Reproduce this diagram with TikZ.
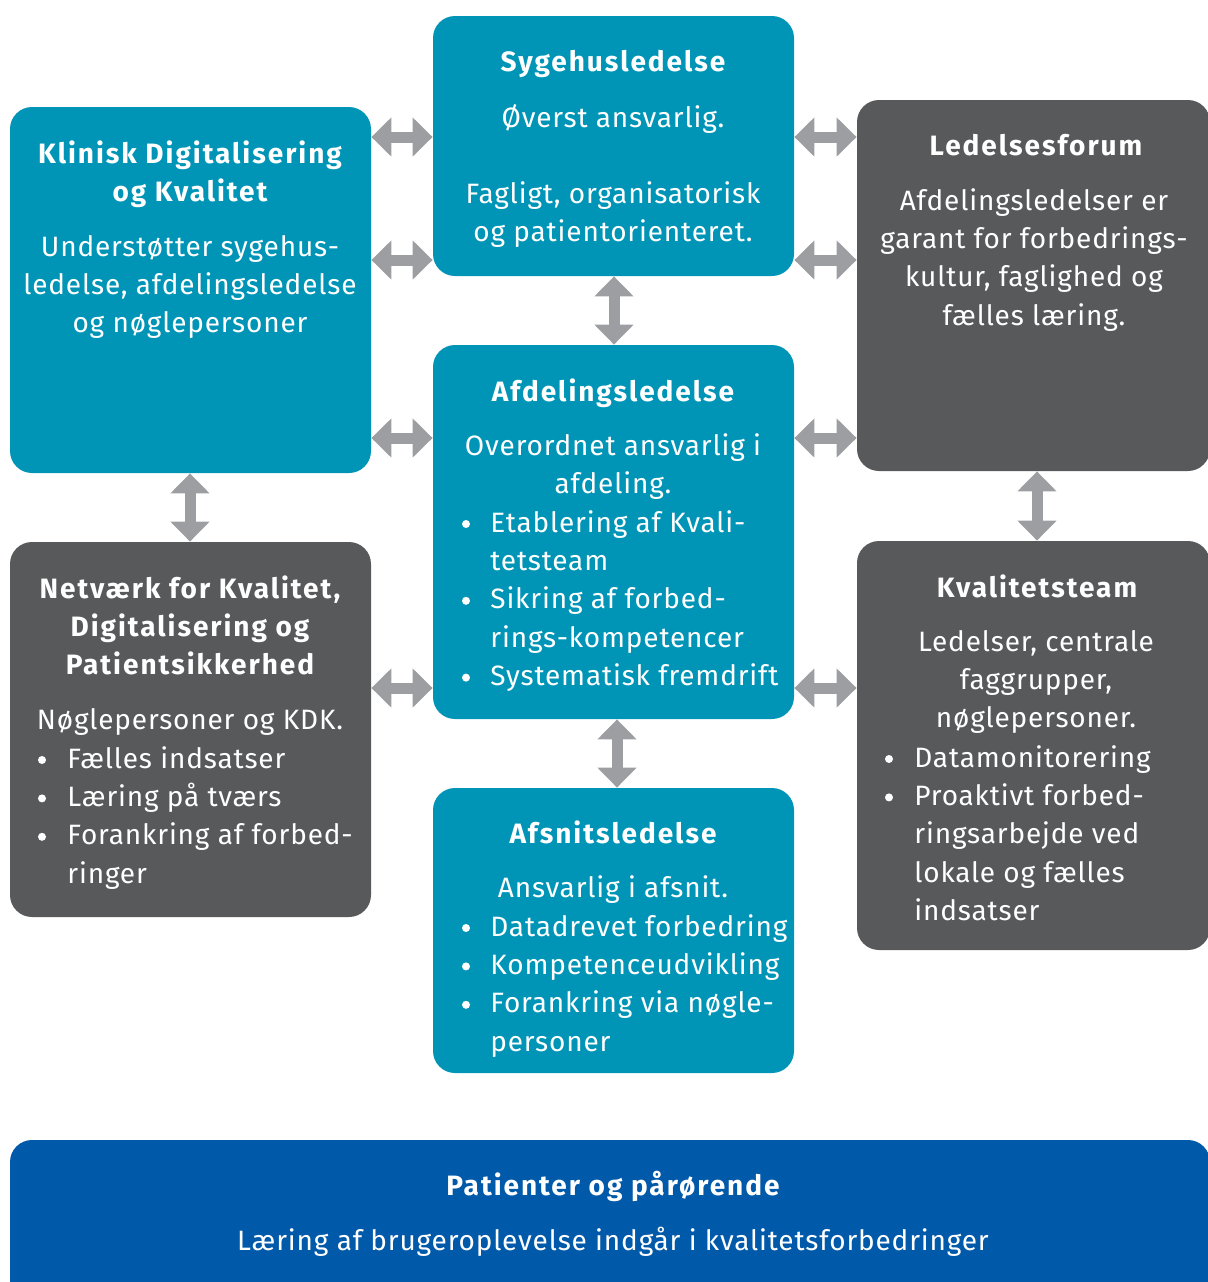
\documentclass[tikz,border=0pt]{standalone}
\usepackage{fontspec}
\setmainfont{Fira Sans}[LetterSpace=3, BoldFeatures={LetterSpace=7}]
\usetikzlibrary{arrows.meta,fit}
\definecolor{cTeal}{HTML}{0095B6}
\definecolor{cGrey}{HTML}{58595B}
\definecolor{cBlue}{HTML}{0059A9}
\definecolor{cArrow}{HTML}{9D9EA2}
\tikzset{
  box/.style={rounded corners=11pt, inner sep=0pt, draw=none},
  tealbox/.style={box, fill=cTeal},
  greybox/.style={box, fill=cGrey},
  bluebox/.style={box, fill=cBlue},
  ttl/.style={text=white, font=\fontsize{14}{19}\selectfont\bfseries, inner sep=0pt, anchor=base},
  txt/.style={text=white, font=\fontsize{14}{19}\selectfont, inner sep=0pt, anchor=base},
  txtl/.style={txt, anchor=base west},
  bul/.style={circle, fill=white, draw=none, inner sep=0pt, minimum size=4pt},
  dbl/.style={draw=cArrow, line width=5.5pt,
    {Triangle[width=19pt,length=10pt]}-{Triangle[width=19pt,length=10pt]}}
}
\begin{document}
\begin{tikzpicture}[x=0.5pt,y=-0.5pt]
\useasboundingbox (0,0) rectangle (1208,1282);
\clip (0,0) rectangle (1208,1282);
% boxes
\node[tealbox, fit={(433,16) (794,276)}] (syg) {};
\node[tealbox, fit={(10,107) (371,473)}] (klin) {};
\node[greybox, fit={(857,100) (1210,471)}] (led) {};
\node[tealbox, fit={(433,345) (794,719)}] (afd) {};
\node[greybox, fit={(10,542) (371,917)}] (net) {};
\node[greybox, fit={(857,541) (1210,950)}] (kval) {};
\node[tealbox, fit={(433,788) (794,1073)}] (afs) {};
\node[bluebox, fit={(10,1140) (1210,1310)}] (pat) {};
% arrow rows
\coordinate (r1) at (0,137);
\coordinate (r2) at (0,260);
\coordinate (r3) at (0,438);
\coordinate (r4) at (0,688);
\coordinate (c1) at (614,0);
\coordinate (c2) at (617,0);
\coordinate (c3) at (190,0);
\coordinate (c4) at (1037,0);
\draw[dbl] (klin.east |- r1) -- (syg.west |- r1);
\draw[dbl] (klin.east |- r2) -- (syg.west |- r2);
\draw[dbl] (klin.east |- r3) -- (afd.west |- r3);
\draw[dbl] (net.east |- r4) -- (afd.west |- r4);
\draw[dbl] (syg.east |- r1) -- (led.west |- r1);
\draw[dbl] (syg.east |- r2) -- (led.west |- r2);
\draw[dbl] (afd.east |- r3) -- (led.west |- r3);
\draw[dbl] (afd.east |- r4) -- (kval.west |- r4);
\draw[dbl] (syg.south -| c1) -- (afd.north -| c1);
\draw[dbl] (afd.south -| c2) -- (afs.north -| c2);
\draw[dbl] (klin.south -| c3) -- (net.north -| c3);
\draw[dbl] (led.south -| c4) -- (kval.north -| c4);
% Sygehusledelse
\node[ttl] (syg-t) at (613,71) {Sygehusledelse};
\node[txt] (syg-a) at (613,127) {Øverst ansvarlig.};
\foreach \s [count=\i] in {{Fagligt, organisatorisk},{og patientorienteret.}}
  \node[txt] (syg-b\i) at (613,{203+38.4*(\i-1)}) {\s};
% Klinisk
\foreach \s [count=\i] in {{Klinisk Digitalisering},{og Kvalitet}}
  \node[ttl] (klin-t\i) at (190,{163+38.4*(\i-1)}) {\s};
\foreach \s [count=\i] in {{Understøtter sygehus-},{ledelse, afdelingsledelse},{og nøglepersoner}}
  \node[txt] (klin-b\i) at (190,{256+38.4*(\i-1)}) {\s};
% Ledelsesforum
\node[ttl] (led-t) at (1036,155) {Ledelsesforum};
\foreach \s [count=\i] in {{Afdelingsledelser er},{garant for forbedrings-},{kultur, faglighed og},{fælles læring.}}
  \node[txt] (led-b\i) at (1034,{210+38.4*(\i-1)}) {\s};
% Afdelingsledelse
\node[ttl] (afd-t) at (613,401) {Afdelingsledelse};
\foreach \s [count=\i] in {{Overordnet ansvarlig i},{afdeling.}}
  \node[txt] (afd-b\i) at (613,{455+38.4*(\i-1)}) {\s};
\foreach \s [count=\i] in {{Etablering af Kvali-},{tetsteam},{Sikring af forbed-},{rings-kompetencer},{Systematisk fremdrift}}
  \node[txtl] (afd-l\i) at (490,{532+38.4*(\i-1)}) {\s};
\foreach \i/\k in {1/0,2/2,3/4}
  \node[bul] (afd-d\i) at (466,{524+38.4*\k}) {};
% Netvaerk
\foreach \s [count=\i] in {{Netværk for Kvalitet,},{Digitalisering og},{Patientsikkerhed}}
  \node[ttl] (net-t\i) at (190,{598+38.4*(\i-1)}) {\s};
\node[txt] (net-a) at (190,729) {Nøglepersoner og KDK.};
\foreach \s [count=\i] in {{Fælles indsatser},{Læring på tværs},{Forankring af forbed-},{ringer}}
  \node[txtl] (net-l\i) at (67,{768+38.4*(\i-1)}) {\s};
\foreach \i/\k in {1/0,2/1,3/2}
  \node[bul] (net-d\i) at (42,{760+38.4*\k}) {};
% Kvalitetsteam
\node[ttl] (kval-t) at (1037,597) {Kvalitetsteam};
\foreach \s [count=\i] in {{Ledelser, centrale},{faggrupper,},{nøglepersoner.}}
  \node[txt] (kval-b\i) at (1036,{651+38.4*(\i-1)}) {\s};
\foreach \s [count=\i] in {{Datamonitorering},{Proaktivt forbed-},{ringsarbejde ved},{lokale og fælles},{indsatser}}
  \node[txtl] (kval-l\i) at (914,{767+38.4*(\i-1)}) {\s};
\foreach \i/\k in {1/0,2/1}
  \node[bul] (kval-d\i) at (889,{759+38.4*\k}) {};
% Afsnitsledelse
\node[ttl] (afs-t) at (613,843) {Afsnitsledelse};
\node[txt] (afs-a) at (613,897) {Ansvarlig i afsnit.};
\foreach \s [count=\i] in {{Datadrevet forbedring},{Kompetenceudvikling},{Forankring via nøgle-},{personer}}
  \node[txtl] (afs-l\i) at (490,{936+38.4*(\i-1)}) {\s};
\foreach \i/\k in {1/0,2/1,3/2}
  \node[bul] (afs-d\i) at (466,{928+38.4*\k}) {};
% Patienter
\node[ttl] (pat-t) at (613,1195) {Patienter og pårørende};
\node[txt] (pat-b) at (613,1250) {Læring af brugeroplevelse indgår i kvalitetsforbedringer};
\end{tikzpicture}
\end{document}
